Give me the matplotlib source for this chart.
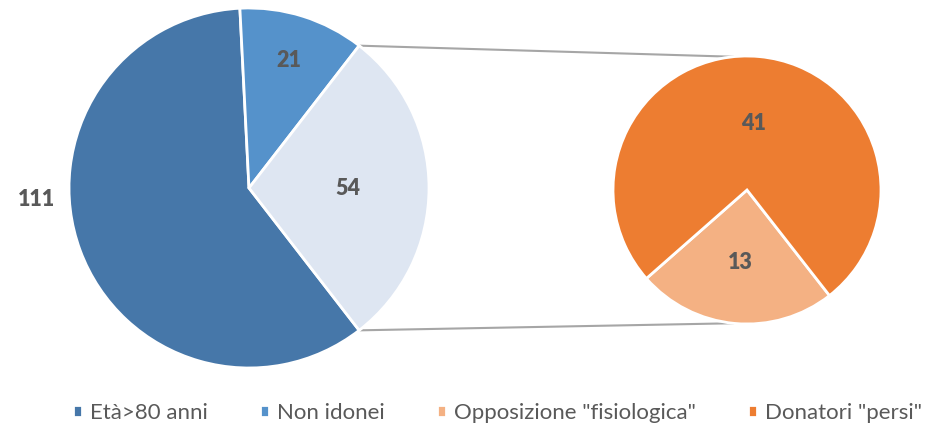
import numpy as np
import matplotlib.pyplot as plt

# data
main_labels = ["Età>80 anni", "Non idonei", "Altro"]
main_values = [111, 21, 54]
sub_labels = ['Opposizione "fisiologica"', 'Donatori "persi"']
sub_values = [13, 41]

main_colors = ["#4677A9", "#5592CB", "#DEE6F2"]
sub_colors = ["#F4B183", "#ED7D31"]
label_color = "#595959"

plt.rcParams["font.family"] = ["Lato", "DejaVu Sans"]

fig = plt.figure(figsize=(9.28, 4.24), dpi=100)
ax = fig.add_axes([0, 0, 1, 1])

# pixel-like coordinates (y up)
c1, r1 = (249, 236), 180
c2, r2 = (747, 234), 134

# main pie: "other" slice centred on the right
start1 = -main_values[2] / sum(main_values) * 180
w1, _ = ax.pie(main_values, colors=main_colors, center=c1, radius=r1,
               startangle=start1, counterclock=False,
               wedgeprops=dict(edgecolor="white", linewidth=2))
w2, _ = ax.pie(sub_values, colors=sub_colors, center=c2, radius=r2,
               startangle=-52, counterclock=False,
               wedgeprops=dict(edgecolor="white", linewidth=2))

# data labels (distance as fraction of radius, optional fixed angle)
def put_labels(wedges, values, center, radius, dists, angles):
    for w, v, d, ang in zip(wedges, values, dists, angles):
        if ang is None:
            ang = (w.theta1 + w.theta2) / 2
        a = np.deg2rad(ang)
        x = center[0] + d * radius * np.cos(a)
        y = center[1] + d * radius * np.sin(a)
        ax.text(x, y, str(v), ha="center", va="center", fontsize=15.5,
                fontweight="heavy", color=label_color)

put_labels(w1, main_values, c1, r1, [1.18, 0.74, 0.55], [183, None, None])
put_labels(w2, sub_values, c2, r2, [0.54, 0.5], [None, None])

# connector lines
a_top = np.deg2rad(w1[2].theta2)
a_bot = np.deg2rad(w1[2].theta1)
for a1, a2 in [(a_top, np.deg2rad(96)), (a_bot, np.deg2rad(264))]:
    ax.plot([c1[0] + r1 * np.cos(a1), c2[0] + r2 * np.cos(a2)],
            [c1[1] + r1 * np.sin(a1), c2[1] + r2 * np.sin(a2)],
            color="#A6A6A6", linewidth=1.5, zorder=0)

ax.set_xlim(0, 928)
ax.set_ylim(0, 424)
ax.set_aspect("equal")
ax.axis("off")

handles = [w1[0], w1[1], w2[0], w2[1]]
labels = [main_labels[0], main_labels[1], sub_labels[0], sub_labels[1]]
ax.legend(handles, labels, loc="lower center", bbox_to_anchor=(0.536, -0.045),
          ncol=4, frameon=False, fontsize=16, labelcolor=label_color,
          handlelength=0.42, handleheight=0.42, handletextpad=0.35,
          columnspacing=2.35)

fig.savefig("out.png", dpi=100)
